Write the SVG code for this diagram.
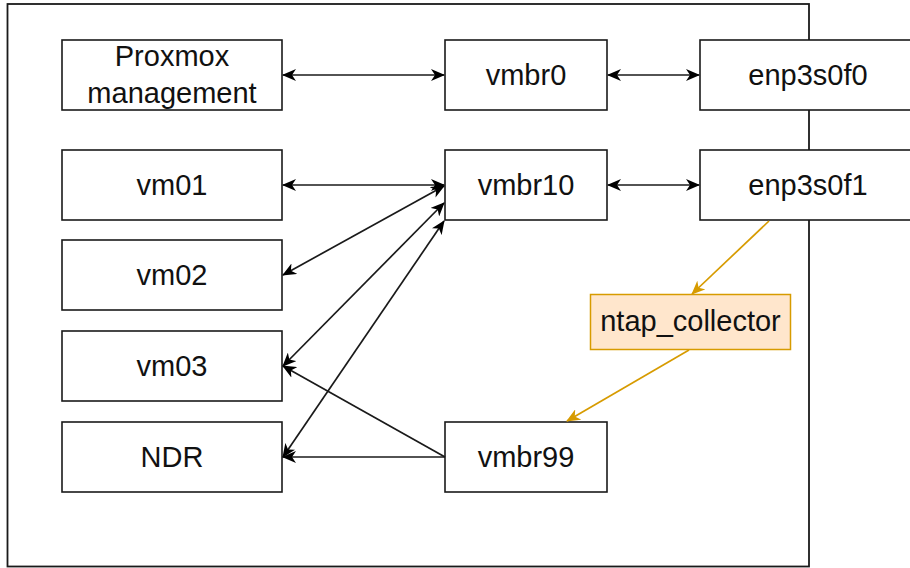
<svg xmlns="http://www.w3.org/2000/svg" width="910" height="568" viewBox="0 0 910 568">
  <style>
    .box { fill: #ffffff; stroke: #1a1a1a; stroke-width: 1.6; }
    .hl { fill: #ffe6cc; stroke: #d79b00; stroke-width: 1.5; }
    .lbl { font-family: "Liberation Sans", Arial, Helvetica, sans-serif; font-size: 29px; fill: #111111; text-anchor: middle; }
    .edge { fill: none; stroke: #1a1a1a; stroke-width: 1.7; }
    .edge-o { fill: none; stroke: #d79b00; stroke-width: 1.7; }
  </style>
  <defs>
    <marker id="ah" viewBox="0 0 14 12" refX="13" refY="6" markerWidth="14" markerHeight="12" markerUnits="userSpaceOnUse" orient="auto-start-reverse">
      <path d="M0,0 L14,6 L0,12 L4,6 Z" fill="#000000"/>
    </marker>
    <marker id="aho" viewBox="0 0 14 12" refX="13" refY="6" markerWidth="14" markerHeight="12" markerUnits="userSpaceOnUse" orient="auto-start-reverse">
      <path d="M0,0 L14,6 L0,12 L4,6 Z" fill="#d79b00"/>
    </marker>
  </defs>
  <rect width="910" height="568" fill="#ffffff"/>

  <g id="host">
    <rect x="7.5" y="4" width="801.5" height="562.5" fill="none" stroke="#1a1a1a" stroke-width="1.8"/>
  </g>

  <g id="proxmox-management">
    <rect class="box" x="62" y="40" width="220" height="70"/>
    <text class="lbl" x="172" y="66">Proxmox</text>
    <text class="lbl" x="172" y="103">management</text>
  </g>
  <g id="vmbr0">
    <rect class="box" x="445" y="40" width="162" height="70"/>
    <text class="lbl" x="526" y="85">vmbr0</text>
  </g>
  <g id="enp3s0f0">
    <rect class="box" x="700" y="40" width="216" height="70"/>
    <text class="lbl" x="808" y="85">enp3s0f0</text>
  </g>
  <g id="vm01">
    <rect class="box" x="62" y="150" width="220" height="70"/>
    <text class="lbl" x="172" y="195">vm01</text>
  </g>
  <g id="vmbr10">
    <rect class="box" x="445" y="150" width="162" height="70"/>
    <text class="lbl" x="526" y="195">vmbr10</text>
  </g>
  <g id="enp3s0f1">
    <rect class="box" x="700" y="150" width="216" height="70"/>
    <text class="lbl" x="808" y="195">enp3s0f1</text>
  </g>
  <g id="vm02">
    <rect class="box" x="62" y="240" width="220" height="70"/>
    <text class="lbl" x="172" y="285">vm02</text>
  </g>
  <g id="vm03">
    <rect class="box" x="62" y="331" width="220" height="70"/>
    <text class="lbl" x="172" y="376">vm03</text>
  </g>
  <g id="ndr">
    <rect class="box" x="62" y="422" width="220" height="70"/>
    <text class="lbl" x="172" y="467">NDR</text>
  </g>
  <g id="vmbr99">
    <rect class="box" x="445" y="422" width="162" height="70"/>
    <text class="lbl" x="526" y="467">vmbr99</text>
  </g>
  <g id="ntap-collector">
    <rect class="hl" x="590.5" y="294.5" width="200" height="55"/>
    <text class="lbl" x="690.5" y="331">ntap_collector</text>
  </g>

  <g id="connectors">
    <line class="edge" x1="283" y1="75" x2="444" y2="75" marker-start="url(#ah)" marker-end="url(#ah)"/>
    <line class="edge" x1="608" y1="75" x2="699" y2="75" marker-start="url(#ah)" marker-end="url(#ah)"/>
    <line class="edge" x1="283" y1="185" x2="444" y2="185" marker-start="url(#ah)" marker-end="url(#ah)"/>
    <line class="edge" x1="608" y1="185" x2="699" y2="185" marker-start="url(#ah)" marker-end="url(#ah)"/>
    <line class="edge" x1="283" y1="275" x2="444" y2="186" marker-start="url(#ah)" marker-end="url(#ah)"/>
    <line class="edge" x1="283" y1="366" x2="444" y2="203" marker-start="url(#ah)" marker-end="url(#ah)"/>
    <line class="edge" x1="283" y1="457" x2="444" y2="221" marker-start="url(#ah)" marker-end="url(#ah)"/>
    <line class="edge" x1="445" y1="457" x2="283" y2="366" marker-end="url(#ah)"/>
    <line class="edge" x1="445" y1="457" x2="283" y2="457" marker-end="url(#ah)"/>
    <line class="edge-o" x1="769" y1="221" x2="692" y2="294" marker-end="url(#aho)"/>
    <line class="edge-o" x1="689" y1="350" x2="567" y2="421" marker-end="url(#aho)"/>
  </g>
</svg>
